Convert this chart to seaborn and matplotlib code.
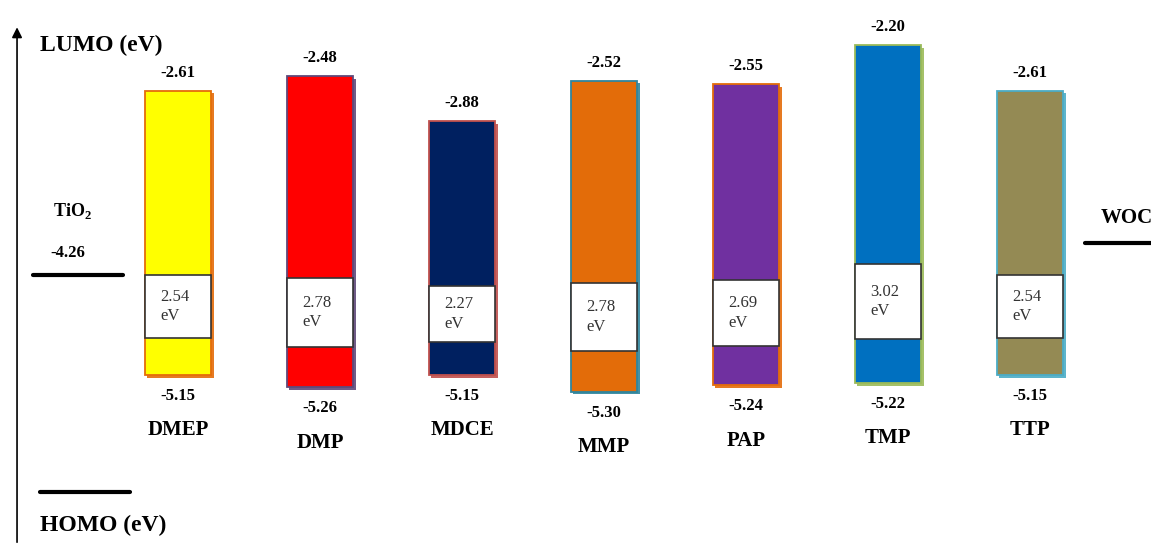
import numpy as np
import pandas as pd
import matplotlib.pyplot as plt
import matplotlib.patheffects as pe
import seaborn as sns
from matplotlib.patches import Rectangle

# energy levels (eV)
names = ["DMEP", "DMP", "MDCE", "MMP", "PAP", "TMP", "TTP"]
lumo = [-2.61, -2.48, -2.88, -2.52, -2.55, -2.20, -2.61]
homo = [-5.15, -5.26, -5.15, -5.30, -5.24, -5.22, -5.15]
fill_colors = ["#FFFF00", "#FF0000", "#002060", "#E36C09", "#7030A0", "#0070C0", "#948A54"]
edge_colors = ["#E46C0A", "#5F497A", "#C0504D", "#31859C", "#E46C0A", "#9BBB59", "#4BACC6"]
tio2_level = -4.26
woc_level = -3.97

sns.set_theme(style="white")
plt.rcParams["font.family"] = ["Liberation Serif", "DejaVu Serif"]
plt.rcParams["text.color"] = "black"

df = pd.DataFrame({"name": names, "lumo": lumo, "homo": homo})
df["gap"] = df["lumo"] - df["homo"]

fig = plt.figure(figsize=(11.51, 5.45), dpi=100)
ax = fig.add_axes([0, 0, 1, 1])

sns.barplot(data=df, x="name", y="gap", hue="name", palette=fill_colors,
            legend=False, width=0.47, saturation=1, ax=ax)

# move each bar so it spans HOMO..LUMO
for patch, lo, ec in zip(ax.patches, df["homo"], edge_colors):
    patch.set_y(lo)
    patch.set_edgecolor(ec)
    patch.set_linewidth(1.3)
    patch.set_path_effects([pe.SimplePatchShadow(offset=(2, -2), shadow_rgbFace=ec, alpha=0.9),
                            pe.Normal()])

for patch, row in zip(list(ax.patches), df.itertuples()):
    x0 = patch.get_x()
    w = patch.get_width()
    xc = x0 + w / 2
    # band gap box
    b_top = row.lumo - 0.65 * row.gap
    b_bot = row.lumo - 0.87 * row.gap
    ax.add_patch(Rectangle((x0, b_bot), w, b_top - b_bot, facecolor="white",
                           edgecolor="#333333", lw=1.2, zorder=3))
    ax.text(x0 + 0.11, (b_top + b_bot) / 2, f"{row.gap:.2f}\neV",
            ha="left", va="center", fontsize=12, color="#333333", linespacing=1.3, zorder=4)
    ax.annotate(f"{row.lumo:.2f}", (xc, row.lumo), xytext=(0, 13), textcoords="offset points",
                ha="center", va="center", fontsize=12, fontweight="bold")
    ax.annotate(f"{row.homo:.2f}", (xc, row.homo), xytext=(0, -15), textcoords="offset points",
                ha="center", va="center", fontsize=12, fontweight="bold")
    ax.annotate(row.name, (xc, row.homo), xytext=(0, -40), textcoords="offset points",
                ha="center", va="center", fontsize=15, fontweight="bold")

ax.set_xlim(-1.254, 6.852)
ax.set_ylim(-6.67, -1.80)
ax.axis("off")

ytr = ax.get_yaxis_transform()
# TiO2 level
ax.plot([0.029, 0.107], [tio2_level, tio2_level], color="black", lw=3, transform=ytr)
ax.annotate("-4.26", (0.059, tio2_level), xycoords=ytr, xytext=(0, 16), textcoords="offset points",
            ha="center", va="center", fontsize=12, fontweight="bold")
ax.annotate("TiO$_{\\mathregular{2}}$", (0.046, tio2_level), xycoords=ytr, xytext=(0, 46),
            textcoords="offset points", ha="left", va="center", fontsize=13, fontweight="bold")
# WOC level
ax.plot([0.943, 1.0], [woc_level, woc_level], color="black", lw=3, transform=ytr)
ax.annotate("WOC", (0.956, woc_level), xycoords=ytr, xytext=(0, 18), textcoords="offset points",
            ha="left", va="center", fontsize=15, fontweight="bold")

# axis arrow and labels
ax.annotate("", xy=(0.0148, 0.955), xytext=(0.0148, 0.0), xycoords="axes fraction",
            arrowprops=dict(arrowstyle="-|>", color="black", lw=1.2, mutation_scale=15))
ax.text(0.035, 1 - 45 / 545, "LUMO (eV)", transform=ax.transAxes, ha="left", va="center",
        fontsize=17, fontweight="bold")
ax.plot([0.035, 0.113], [1 - 492 / 545, 1 - 492 / 545], color="black", lw=3, transform=ax.transAxes)
ax.text(0.035, 1 - 525 / 545, "HOMO (eV)", transform=ax.transAxes, ha="left", va="center",
        fontsize=17, fontweight="bold")

fig.savefig("out.png", dpi=100)
